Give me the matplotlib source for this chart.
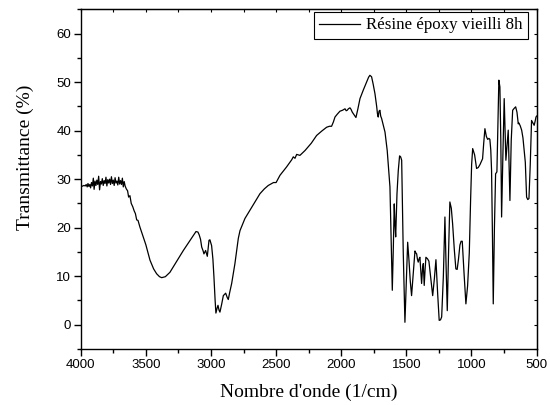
import matplotlib
matplotlib.use("Agg")
import matplotlib.pyplot as plt
from matplotlib.ticker import MultipleLocator

# spectre IR (nombre d'onde en 1/cm, transmittance en %)
wavenumber = [4000, 3992, 3975, 3965, 3958, 3950, 3944, 3937, 3930, 3924, 3917, 3910,
              3903, 3897, 3890, 3883, 3876, 3869, 3862, 3855, 3848, 3841, 3834, 3827,
              3820, 3813, 3806, 3799, 3792, 3785, 3778, 3771, 3764, 3757, 3750, 3743,
              3736, 3729, 3722, 3715, 3708, 3701, 3694, 3687, 3680, 3673, 3666, 3659,
              3650, 3640, 3632, 3622, 3612, 3600, 3590, 3580, 3570, 3560, 3545,
              3500, 3468, 3440, 3417, 3395, 3378, 3350, 3315, 3260, 3212, 3160, 3115,
              3100, 3090, 3080, 3071, 3060, 3054, 3041, 3028, 3015, 3008, 2995, 2985,
              2977, 2968, 2962, 2954, 2946, 2938, 2931, 2918, 2905, 2887, 2875, 2867,
              2855, 2841, 2816, 2790, 2777, 2739, 2701, 2660, 2624, 2590, 2560, 2520,
              2500, 2470, 2420, 2380, 2368, 2355, 2342, 2317, 2278, 2230, 2189, 2150,
              2112, 2090, 2074, 2060, 2048, 2030, 2010, 1990, 1971, 1962, 1954, 1945,
              1933, 1925, 1915, 1900, 1887, 1872, 1856, 1830, 1805, 1790, 1780, 1767,
              1755, 1741, 1728, 1722, 1716, 1710, 1703, 1697, 1690, 1678, 1664, 1647,
              1636, 1626, 1616, 1608, 1600, 1593, 1587, 1582, 1572, 1562, 1552, 1544,
              1536, 1524, 1511, 1500, 1490, 1480, 1470, 1460, 1447, 1434, 1427, 1421,
              1415, 1409, 1402, 1396, 1389, 1383, 1376, 1370, 1366, 1363, 1356, 1350,
              1338, 1327, 1312, 1298, 1285, 1273, 1260, 1248, 1238, 1229, 1216, 1204,
              1195, 1186, 1176, 1166, 1155, 1145, 1132, 1120, 1110, 1100, 1089, 1080,
              1071, 1057, 1043, 1030, 1017, 1007, 999, 991, 976, 961, 948, 935,
              925, 915, 906, 897, 886, 876, 866, 859, 852, 846, 839, 833,
              824, 815, 805, 797, 790, 782, 775, 769, 759, 749, 742, 736,
              727, 718, 711, 705, 695, 684, 672, 661, 651, 641, 637, 626,
              615, 605, 598, 587, 577, 568, 559, 549, 539, 529, 519, 511,
              505, 500]
transmittance = [28.5, 28.5, 28.7, 28.6, 28.9, 28.4, 29.1, 28.5, 28.9, 28.2, 29.3, 28.6,
                 30.2, 27.9, 29.6, 28.7, 29.8, 28.9, 30.6, 27.8, 29.5, 29.0, 30.1, 28.7,
                 29.7, 29.1, 30.4, 28.6, 29.9, 29.2, 30.0, 28.9, 30.5, 29.1, 29.8, 28.7,
                 30.3, 29.2, 29.6, 28.8, 30.4, 29.0, 29.7, 28.9, 30.2, 28.4, 29.5, 28.6,
                 28.0, 27.6, 26.3, 26.6, 25.0, 24.3, 23.5, 22.9, 21.6, 21.5, 20.1,
                 16.5, 13.3, 11.5, 10.5, 9.9, 9.7, 9.9, 10.8, 13.2, 15.3, 17.4, 19.2,
                 19.1, 18.5, 17.6, 16.0, 15.2, 14.6, 15.3, 14.1, 17.4, 17.5, 16.3, 13.5,
                 9.8, 5.0, 2.4, 3.3, 4.0, 3.0, 2.6, 4.2, 6.0, 6.5, 5.6, 5.2,
                 6.8, 8.5, 12.6, 17.8, 19.4, 21.9, 23.6, 25.4, 27.0, 28.0, 28.7, 29.3,
                 29.3, 30.8, 32.5, 34.0, 34.6, 34.3, 35.1, 34.9, 35.9, 37.4, 39.0, 39.9,
                 40.7, 40.9, 40.9, 41.8, 42.8, 43.4, 44.0, 44.2, 44.5, 44.1, 44.2, 44.5,
                 44.7, 44.4, 43.8, 43.2, 42.7, 44.5, 46.6, 48.4, 50.0, 51.0, 51.4, 51.1,
                 49.6, 47.6, 45.0, 43.5, 42.8, 44.0, 44.2, 43.0, 42.5, 41.2, 39.7, 35.9,
                 32.0, 28.4, 17.0, 7.1, 16.0, 24.9, 20.5, 18.1, 27.0, 31.8, 34.8, 34.6,
                 33.9, 15.0, 0.5, 9.0, 17.0, 13.3, 9.0, 6.0, 10.5, 15.2, 14.8, 14.6,
                 13.5, 12.9, 13.6, 13.9, 11.0, 8.5, 11.5, 12.6, 10.0, 8.1, 11.5, 13.9,
                 13.6, 13.1, 9.5, 6.0, 9.5, 13.4, 6.5, 0.9, 1.0, 1.6, 10.0, 22.2,
                 12.0, 2.9, 15.0, 25.3, 24.0, 20.8, 15.5, 11.5, 11.4, 13.5, 16.4, 17.2,
                 17.2, 10.5, 4.3, 8.0, 14.8, 25.6, 33.0, 36.3, 35.0, 32.2, 32.4, 33.0,
                 33.6, 34.2, 37.5, 40.4, 38.8, 38.2, 38.4, 38.2, 36.0, 31.8, 18.0, 4.3,
                 20.0, 31.1, 31.5, 42.0, 50.4, 49.0, 38.0, 22.2, 35.0, 46.6, 40.0, 33.9,
                 37.0, 40.1, 32.0, 25.6, 38.0, 44.2, 44.6, 44.9, 43.8, 41.4, 41.6, 41.0,
                 40.1, 38.5, 36.6, 33.5, 26.3, 25.8, 26.0, 33.0, 42.1, 41.6, 41.1, 42.0,
                 42.8, 43.0]

label = "Résine époxy vieilli 8h"

fig = plt.figure(figsize=(5.5, 4.05), dpi=100)
ax = fig.add_axes([0.1467, 0.1383, 0.829, 0.8387])

ax.plot(wavenumber, transmittance, color="black", linewidth=0.9, label=label)

ax.set_xlim(4000, 500)
ax.set_ylim(-5, 65)
ax.xaxis.set_major_locator(MultipleLocator(500))
ax.xaxis.set_minor_locator(MultipleLocator(250))
ax.yaxis.set_major_locator(MultipleLocator(10))
ax.yaxis.set_minor_locator(MultipleLocator(5))
ax.tick_params(which="major", direction="out", length=5, width=1,
               labelsize=9.5, pad=2)
ax.tick_params(which="minor", direction="out", length=3, width=1)
for lab in ax.get_xticklabels() + ax.get_yticklabels():
    lab.set_fontfamily("Liberation Sans")
for sp in ax.spines.values():
    sp.set_linewidth(1)

# petits ticks internes en haut et a droite
top = ax.secondary_xaxis("top")
top.set_xticks(range(500, 4001, 250))
top.set_xticklabels([])
top.tick_params(direction="in", length=2)
right = ax.secondary_yaxis("right")
right.set_yticks(range(-5, 66, 5))
right.set_yticklabels([])
right.tick_params(direction="in", length=2)

ax.set_xlabel("Nombre d'onde (1/cm)", fontfamily="Liberation Serif", fontsize=14, labelpad=9)
ax.set_ylabel("Transmittance (%)", fontfamily="Liberation Serif", fontsize=14)
ax.yaxis.set_label_coords(-0.102, 0.565)

leg = ax.legend(loc="upper right", bbox_to_anchor=(0.981, 0.991),
                prop={"family": "Liberation Serif", "size": 12.2},
                frameon=True, fancybox=False, edgecolor="black", framealpha=1,
                borderpad=0.3, handlelength=2.4, handletextpad=0.4,
                borderaxespad=0)
leg.get_frame().set_linewidth(0.8)

fig.savefig("out.png", dpi=100)
